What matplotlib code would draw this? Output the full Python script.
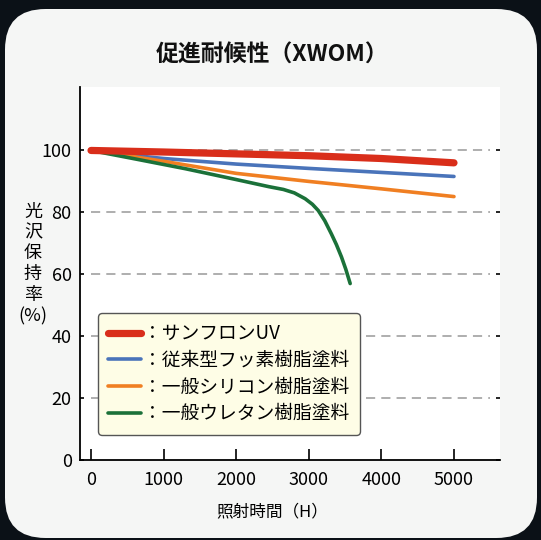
import matplotlib
matplotlib.use('Agg')
import matplotlib.pyplot as plt
from matplotlib.patches import FancyBboxPatch

plt.rcParams['font.family'] = ['Noto Sans CJK JP', 'DejaVu Sans']

# データ
uv_h = [0, 1000, 2000, 3000, 4000, 5000]
uv_val = [100, 99.5, 98.9, 98.3, 97.4, 96.0]

fluoro_h = [0, 500, 1000, 2000, 3000, 4000, 5000]
fluoro_val = [100, 98.6, 97.4, 95.6, 94.2, 92.9, 91.6]

silicone_h = [0, 500, 1000, 2000, 3000, 4000, 5000]
silicone_val = [100, 98.3, 96.5, 92.6, 90.0, 87.6, 85.1]

urethane_h = [0, 600, 1300, 2000, 2450, 2650, 2800, 2950, 3050, 3130, 3220, 3310, 3380, 3450, 3510, 3570]
urethane_val = [100, 97.3, 94.1, 90.6, 88.3, 87.4, 86.3, 84.4, 82.6, 80.6, 77.3, 73.1, 69.6, 65.6, 61.6, 57.0]

labels = ['：サンフロンUV', '：従来型フッ素樹脂塗料', '：一般シリコン樹脂塗料', '：一般ウレタン樹脂塗料']
colors = ['#d92e1a', '#4a74ba', '#f07f22', '#1b7139']
xticks = [0, 1000, 2000, 3000, 4000, 5000]
yticks = [0, 20, 40, 60, 80, 100]
grid_levels = [20, 40, 60, 80, 100]

fig = plt.figure(figsize=(5.41, 5.40), dpi=100, facecolor='#0b1117')

# 背景パネル
panel = FancyBboxPatch((5 / 541, 2 / 540), 532 / 541, 529 / 540,
                       boxstyle='round,pad=0,rounding_size=0.075',
                       transform=fig.transFigure, facecolor='#f5f6f5',
                       edgecolor='none', zorder=-5)
fig.patches.append(panel)

ax = fig.add_axes([80 / 541, 80 / 540, 420 / 541, 373 / 540])
ax.set_zorder(2)
ax.set_facecolor('white')

# 補助線
ax.hlines(grid_levels, 0, 5500, colors='#999999', linestyles=(0, (6, 4)), linewidth=1.1, zorder=1)

ax.plot(fluoro_h, fluoro_val, color=colors[1], lw=2.6, solid_capstyle='round', solid_joinstyle='round',
        label=labels[1], zorder=3)
ax.plot(silicone_h, silicone_val, color=colors[2], lw=2.6, solid_capstyle='round', solid_joinstyle='round',
        label=labels[2], zorder=3)
ax.plot(urethane_h, urethane_val, color=colors[3], lw=2.6, solid_capstyle='round', solid_joinstyle='round',
        label=labels[3], zorder=3)
ax.plot(uv_h, uv_val, color=colors[0], lw=5.2, solid_capstyle='round', solid_joinstyle='round',
        label=labels[0], zorder=4)

ax.set_xlim(-152, 5634)
ax.set_ylim(0, 120.5)
ax.set_xticks(xticks)
ax.set_yticks(yticks)
ax.tick_params(axis='x', direction='in', length=8, width=1.2, labelsize=13, pad=8, color='black')
ax.tick_params(axis='y', direction='in', length=3, width=1.2, labelsize=13, pad=6,
               right=True, color='black')

for s in ['top', 'right']:
    ax.spines[s].set_visible(False)
for s in ['left', 'bottom']:
    ax.spines[s].set_linewidth(1.3)

handles, labs = ax.get_legend_handles_labels()
order = [3, 0, 1, 2]
leg = ax.legend([handles[i] for i in order], [labs[i] for i in order],
                loc='upper left', bbox_to_anchor=(0.043, 0.394), borderaxespad=0,
                fontsize=13.5, handlelength=1.75, handletextpad=0.1, labelspacing=0.3,
                borderpad=0.55, fancybox=True, framealpha=1, facecolor='#fefde6',
                edgecolor='#555555')
leg.get_frame().set_linewidth(1.0)

fig.text(272 / 541, 1 - 55 / 540, '促進耐候性（XWOM）', ha='center', va='center',
         fontsize=16.5, fontweight='bold', color='#111111')
fig.text(272 / 541, 1 - 512 / 540, '照射時間（H）', ha='center', va='center', fontsize=12)
fig.text(33 / 541, 1 - 264 / 540, '光\n沢\n保\n持\n率\n(%)', ha='center', va='center',
         fontsize=13, linespacing=1.2, multialignment='center')

fig.savefig('out.png', dpi=100, facecolor=fig.get_facecolor())
